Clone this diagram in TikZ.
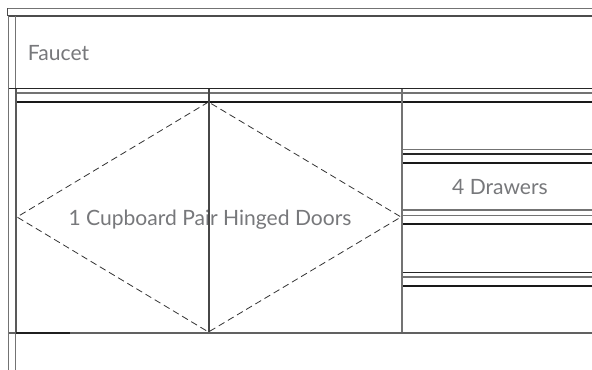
\documentclass[tikz,border=0pt]{standalone}
\usepackage{fontspec}
\setmainfont{Lato}
\definecolor{lbl}{HTML}{77787B}
\tikzset{
  x=0.75pt,y=-0.75pt,
  lab/.style={text=lbl,font=\fontsize{15.8pt}{18pt}\selectfont,inner sep=0pt,anchor=base},
  gl/.style={draw=black!55,line width=1.1pt},
  ml/.style={draw=black!70,line width=1.1pt},
  dl/.style={draw=black!90,line width=1.5pt},
  tl/.style={draw=black!85,line width=0.9pt},
  dia/.style={draw=black!80,line width=0.6pt,dash pattern=on 5pt off 3pt}
}
\begin{document}
\begin{tikzpicture}
\useasboundingbox (0,0) rectangle (592,370);
\fill[white] (0,0) rectangle (592,370);
% labels
\node[lab] (faucet) at (58.5,61) {Faucet};
\node[lab] (cup) at (210,226) {1 Cupboard Pair Hinged Doors};
\node[lab] (draw) at (500,195) {4 Drawers};
% top frame
\draw[gl] (7.5,8.5) -- (592,8.5);
\draw[ml] (7.5,16) -- (592,16);
\draw[ml] (7.5,8.5) -- (7.5,16);
\draw[gl] (8.5,16) -- (8.5,370);
\draw[gl] (15.5,16) -- (15.5,88);
\draw[gl] (15.5,334) -- (15.5,370);
% rail
\draw[tl] (9,88.5) -- (592,88.5);
\draw[gl] (16,93.2) -- (592,93.2);
\draw[dl] (16,101.6) -- (592,101.6);
% verticals
\draw[draw=black!65,line width=1.5pt] (16,89) -- (16,332);
\draw[draw=black!72,line width=1.5pt] (208.5,89) -- (208.5,332);
\draw[draw=black!55,line width=1.7pt] (402,89) -- (402,332);
% drawers
\draw[gl] (403,149.3) -- (592,149.3);
\draw[tl] (403,154) -- (592,154);
\draw[dl] (403,162.7) -- (592,162.7);
\draw[gl] (403,210.2) -- (592,210.2);
\draw[gl] (403,215.7) -- (592,215.7);
\draw[dl] (403,224.2) -- (592,224.2);
\draw[tl] (403,272.3) -- (592,272.3);
\draw[gl] (403,276.8) -- (592,276.8);
\draw[dl] (403,285.8) -- (592,285.8);
% bottom
\draw[draw=black!62,line width=1.3pt] (9,333) -- (592,333);
\draw[draw=black!88,line width=1.4pt] (16,333) -- (70,333);
% diamond
\coordinate (dw) at (17,217);
\coordinate (dn) at (208.5,102);
\coordinate (de) at (401,217);
\coordinate (ds) at (208.5,332);
\draw[dia] (dn) -- (dw) -- (ds) -- (de) -- (dn);
\end{tikzpicture}
\end{document}
